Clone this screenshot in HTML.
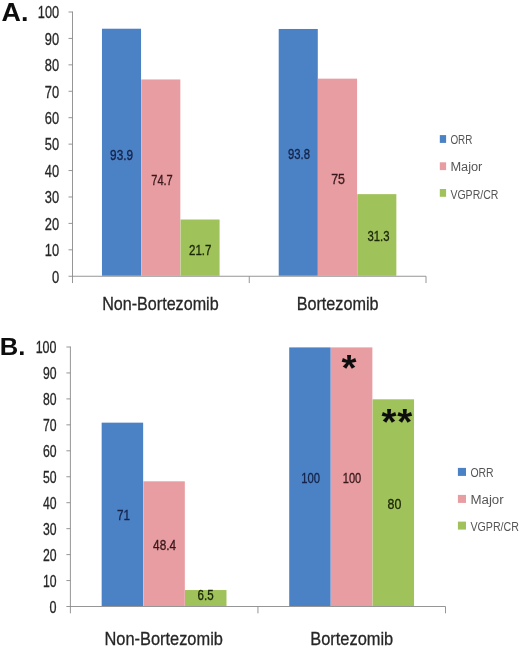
<!DOCTYPE html>
<html><head><meta charset="utf-8"><title>Figure</title>
<style>
html,body{margin:0;padding:0;background:#fff;}
body{width:520px;height:649px;overflow:hidden;}
svg{display:block;font-family:"Liberation Sans",sans-serif;}
</style></head>
<body>
<svg width="520" height="649" viewBox="0 0 520 649" shape-rendering="auto">
<rect width="520" height="649" fill="#ffffff"/>
<defs><filter id="b" x="-2%" y="-2%" width="104%" height="104%"><feGaussianBlur stdDeviation="0.6"/></filter></defs>
<g id="c" filter="url(#b)">
<rect x="101.96" y="28.72" width="39.08" height="247.03" fill="#4c81c5"/>
<rect x="141.24" y="79.46" width="39.08" height="196.29" fill="#e79da1"/>
<rect x="180.51" y="219.51" width="39.08" height="56.24" fill="#a0c25a"/>
<rect x="278.71" y="28.98" width="39.08" height="246.77" fill="#4c81c5"/>
<rect x="317.99" y="78.66" width="39.08" height="197.09" fill="#e79da1"/>
<rect x="357.26" y="194.14" width="39.08" height="81.61" fill="#a0c25a"/>
<line x1="72.5" y1="11.5" x2="72.5" y2="283.05" stroke="#8a8a8a" stroke-width="0.9"/>
<line x1="68.5" y1="276.25" x2="426" y2="276.25" stroke="#8a8a8a" stroke-width="0.9"/>
<text x="59.1" y="282.55" font-size="16.5" text-anchor="end" fill="#262626" font-weight="normal" textLength="7.2" lengthAdjust="spacingAndGlyphs" stroke="#262626" stroke-width="0.3">0</text>
<line x1="68.5" y1="249.825" x2="72.5" y2="249.825" stroke="#8a8a8a" stroke-width="0.9"/>
<text x="59.1" y="256.125" font-size="16.5" text-anchor="end" fill="#262626" font-weight="normal" textLength="14.3" lengthAdjust="spacingAndGlyphs" stroke="#262626" stroke-width="0.3">10</text>
<line x1="68.5" y1="223.4" x2="72.5" y2="223.4" stroke="#8a8a8a" stroke-width="0.9"/>
<text x="59.1" y="229.70000000000002" font-size="16.5" text-anchor="end" fill="#262626" font-weight="normal" textLength="14.3" lengthAdjust="spacingAndGlyphs" stroke="#262626" stroke-width="0.3">20</text>
<line x1="68.5" y1="196.975" x2="72.5" y2="196.975" stroke="#8a8a8a" stroke-width="0.9"/>
<text x="59.1" y="203.275" font-size="16.5" text-anchor="end" fill="#262626" font-weight="normal" textLength="14.3" lengthAdjust="spacingAndGlyphs" stroke="#262626" stroke-width="0.3">30</text>
<line x1="68.5" y1="170.55" x2="72.5" y2="170.55" stroke="#8a8a8a" stroke-width="0.9"/>
<text x="59.1" y="176.85000000000002" font-size="16.5" text-anchor="end" fill="#262626" font-weight="normal" textLength="14.3" lengthAdjust="spacingAndGlyphs" stroke="#262626" stroke-width="0.3">40</text>
<line x1="68.5" y1="144.125" x2="72.5" y2="144.125" stroke="#8a8a8a" stroke-width="0.9"/>
<text x="59.1" y="150.425" font-size="16.5" text-anchor="end" fill="#262626" font-weight="normal" textLength="14.3" lengthAdjust="spacingAndGlyphs" stroke="#262626" stroke-width="0.3">50</text>
<line x1="68.5" y1="117.69999999999999" x2="72.5" y2="117.69999999999999" stroke="#8a8a8a" stroke-width="0.9"/>
<text x="59.1" y="123.99999999999999" font-size="16.5" text-anchor="end" fill="#262626" font-weight="normal" textLength="14.3" lengthAdjust="spacingAndGlyphs" stroke="#262626" stroke-width="0.3">60</text>
<line x1="68.5" y1="91.275" x2="72.5" y2="91.275" stroke="#8a8a8a" stroke-width="0.9"/>
<text x="59.1" y="97.575" font-size="16.5" text-anchor="end" fill="#262626" font-weight="normal" textLength="14.3" lengthAdjust="spacingAndGlyphs" stroke="#262626" stroke-width="0.3">70</text>
<line x1="68.5" y1="64.85" x2="72.5" y2="64.85" stroke="#8a8a8a" stroke-width="0.9"/>
<text x="59.1" y="71.14999999999999" font-size="16.5" text-anchor="end" fill="#262626" font-weight="normal" textLength="14.3" lengthAdjust="spacingAndGlyphs" stroke="#262626" stroke-width="0.3">80</text>
<line x1="68.5" y1="38.42499999999998" x2="72.5" y2="38.42499999999998" stroke="#8a8a8a" stroke-width="0.9"/>
<text x="59.1" y="44.72499999999998" font-size="16.5" text-anchor="end" fill="#262626" font-weight="normal" textLength="14.3" lengthAdjust="spacingAndGlyphs" stroke="#262626" stroke-width="0.3">90</text>
<line x1="68.5" y1="12.0" x2="72.5" y2="12.0" stroke="#8a8a8a" stroke-width="0.9"/>
<text x="59.1" y="18.3" font-size="16.5" text-anchor="end" fill="#262626" font-weight="normal" textLength="21.3" lengthAdjust="spacingAndGlyphs" stroke="#262626" stroke-width="0.3">100</text>
<line x1="249.25" y1="276.25" x2="249.25" y2="283.05" stroke="#8a8a8a" stroke-width="0.9"/>
<line x1="426" y1="276.25" x2="426" y2="283.05" stroke="#8a8a8a" stroke-width="0.9"/>
<text x="121.6" y="159.8" font-size="15" text-anchor="middle" fill="#14244a" font-weight="normal" textLength="23" lengthAdjust="spacingAndGlyphs" stroke="#14244a" stroke-width="0.35">93.9</text>
<text x="162" y="184.5" font-size="15" text-anchor="middle" fill="#3a1a1c" font-weight="normal" textLength="21.5" lengthAdjust="spacingAndGlyphs" stroke="#3a1a1c" stroke-width="0.35">74.7</text>
<text x="200.25" y="254.5" font-size="15" text-anchor="middle" fill="#1a2606" font-weight="normal" textLength="22.5" lengthAdjust="spacingAndGlyphs" stroke="#1a2606" stroke-width="0.35">21.7</text>
<text x="299" y="158.9" font-size="15" text-anchor="middle" fill="#14244a" font-weight="normal" textLength="22" lengthAdjust="spacingAndGlyphs" stroke="#14244a" stroke-width="0.35">93.8</text>
<text x="338" y="183.5" font-size="15" text-anchor="middle" fill="#3a1a1c" font-weight="normal" textLength="13.75" lengthAdjust="spacingAndGlyphs" stroke="#3a1a1c" stroke-width="0.35">75</text>
<text x="378.5" y="241.1" font-size="15" text-anchor="middle" fill="#1a2606" font-weight="normal" textLength="22" lengthAdjust="spacingAndGlyphs" stroke="#1a2606" stroke-width="0.35">31.3</text>
<text x="160.375" y="310.2" font-size="19" text-anchor="middle" fill="#262626" font-weight="normal" textLength="116.5" lengthAdjust="spacingAndGlyphs" stroke="#262626" stroke-width="0.3">Non-Bortezomib</text>
<text x="337.625" y="310.2" font-size="19" text-anchor="middle" fill="#262626" font-weight="normal" textLength="82" lengthAdjust="spacingAndGlyphs" stroke="#262626" stroke-width="0.3">Bortezomib</text>
<rect x="439.80" y="135.10" width="6.30" height="7.80" fill="#4c81c5"/>
<text x="450.4" y="144.2" font-size="12.5" text-anchor="start" fill="#555555" font-weight="normal" textLength="22" lengthAdjust="spacingAndGlyphs">ORR</text>
<rect x="439.80" y="162.30" width="6.30" height="7.80" fill="#e79da1"/>
<text x="450.4" y="171" font-size="12.5" text-anchor="start" fill="#555555" font-weight="normal" textLength="32" lengthAdjust="spacingAndGlyphs">Major</text>
<rect x="439.80" y="189.00" width="6.30" height="7.80" fill="#a0c25a"/>
<text x="450.4" y="199.4" font-size="12.5" text-anchor="start" fill="#555555" font-weight="normal" textLength="48" lengthAdjust="spacingAndGlyphs">VGPR/CR</text>
<text x="1.6" y="20.8" font-size="25" text-anchor="start" fill="#0a0a0a" font-weight="bold" textLength="26.8" lengthAdjust="spacingAndGlyphs">A.</text>
<rect x="101.66" y="422.65" width="41.48" height="183.34" fill="#4c81c5"/>
<rect x="143.34" y="481.30" width="41.48" height="124.70" fill="#e79da1"/>
<rect x="185.01" y="590.03" width="41.48" height="15.97" fill="#a0c25a"/>
<rect x="289.21" y="347.40" width="41.48" height="258.60" fill="#4c81c5"/>
<rect x="330.89" y="347.40" width="41.48" height="258.60" fill="#e79da1"/>
<rect x="372.56" y="399.30" width="41.48" height="206.70" fill="#a0c25a"/>
<line x1="70.4" y1="346.5" x2="70.4" y2="613.3" stroke="#8a8a8a" stroke-width="0.9"/>
<line x1="66.4" y1="606.5" x2="445.5" y2="606.5" stroke="#8a8a8a" stroke-width="0.9"/>
<text x="56.5" y="612.8" font-size="16.5" text-anchor="end" fill="#262626" font-weight="normal" textLength="7.0" lengthAdjust="spacingAndGlyphs" stroke="#262626" stroke-width="0.3">0</text>
<line x1="66.4" y1="580.55" x2="70.4" y2="580.55" stroke="#8a8a8a" stroke-width="0.9"/>
<text x="56.5" y="586.8499999999999" font-size="16.5" text-anchor="end" fill="#262626" font-weight="normal" textLength="13.6" lengthAdjust="spacingAndGlyphs" stroke="#262626" stroke-width="0.3">10</text>
<line x1="66.4" y1="554.6" x2="70.4" y2="554.6" stroke="#8a8a8a" stroke-width="0.9"/>
<text x="56.5" y="560.9" font-size="16.5" text-anchor="end" fill="#262626" font-weight="normal" textLength="13.6" lengthAdjust="spacingAndGlyphs" stroke="#262626" stroke-width="0.3">20</text>
<line x1="66.4" y1="528.65" x2="70.4" y2="528.65" stroke="#8a8a8a" stroke-width="0.9"/>
<text x="56.5" y="534.9499999999999" font-size="16.5" text-anchor="end" fill="#262626" font-weight="normal" textLength="13.6" lengthAdjust="spacingAndGlyphs" stroke="#262626" stroke-width="0.3">30</text>
<line x1="66.4" y1="502.7" x2="70.4" y2="502.7" stroke="#8a8a8a" stroke-width="0.9"/>
<text x="56.5" y="509.0" font-size="16.5" text-anchor="end" fill="#262626" font-weight="normal" textLength="13.6" lengthAdjust="spacingAndGlyphs" stroke="#262626" stroke-width="0.3">40</text>
<line x1="66.4" y1="476.75" x2="70.4" y2="476.75" stroke="#8a8a8a" stroke-width="0.9"/>
<text x="56.5" y="483.05" font-size="16.5" text-anchor="end" fill="#262626" font-weight="normal" textLength="13.6" lengthAdjust="spacingAndGlyphs" stroke="#262626" stroke-width="0.3">50</text>
<line x1="66.4" y1="450.79999999999995" x2="70.4" y2="450.79999999999995" stroke="#8a8a8a" stroke-width="0.9"/>
<text x="56.5" y="457.09999999999997" font-size="16.5" text-anchor="end" fill="#262626" font-weight="normal" textLength="13.6" lengthAdjust="spacingAndGlyphs" stroke="#262626" stroke-width="0.3">60</text>
<line x1="66.4" y1="424.85" x2="70.4" y2="424.85" stroke="#8a8a8a" stroke-width="0.9"/>
<text x="56.5" y="431.15000000000003" font-size="16.5" text-anchor="end" fill="#262626" font-weight="normal" textLength="13.6" lengthAdjust="spacingAndGlyphs" stroke="#262626" stroke-width="0.3">70</text>
<line x1="66.4" y1="398.9" x2="70.4" y2="398.9" stroke="#8a8a8a" stroke-width="0.9"/>
<text x="56.5" y="405.2" font-size="16.5" text-anchor="end" fill="#262626" font-weight="normal" textLength="13.6" lengthAdjust="spacingAndGlyphs" stroke="#262626" stroke-width="0.3">80</text>
<line x1="66.4" y1="372.95" x2="70.4" y2="372.95" stroke="#8a8a8a" stroke-width="0.9"/>
<text x="56.5" y="379.25" font-size="16.5" text-anchor="end" fill="#262626" font-weight="normal" textLength="13.6" lengthAdjust="spacingAndGlyphs" stroke="#262626" stroke-width="0.3">90</text>
<line x1="66.4" y1="347.0" x2="70.4" y2="347.0" stroke="#8a8a8a" stroke-width="0.9"/>
<text x="56.5" y="353.3" font-size="16.5" text-anchor="end" fill="#262626" font-weight="normal" textLength="20.8" lengthAdjust="spacingAndGlyphs" stroke="#262626" stroke-width="0.3">100</text>
<line x1="257.95000000000005" y1="606.5" x2="257.95000000000005" y2="613.3" stroke="#8a8a8a" stroke-width="0.9"/>
<line x1="445.5" y1="606.5" x2="445.5" y2="613.3" stroke="#8a8a8a" stroke-width="0.9"/>
<text x="123.5" y="520.0" font-size="15" text-anchor="middle" fill="#14244a" font-weight="normal" textLength="13" lengthAdjust="spacingAndGlyphs" stroke="#14244a" stroke-width="0.35">71</text>
<text x="164.6" y="550.25" font-size="15" text-anchor="middle" fill="#3a1a1c" font-weight="normal" textLength="23" lengthAdjust="spacingAndGlyphs" stroke="#3a1a1c" stroke-width="0.35">48.4</text>
<text x="205.6" y="599.75" font-size="15" text-anchor="middle" fill="#1a2606" font-weight="normal" textLength="16" lengthAdjust="spacingAndGlyphs" stroke="#1a2606" stroke-width="0.35">6.5</text>
<text x="310.6" y="483.25" font-size="15" text-anchor="middle" fill="#14244a" font-weight="normal" textLength="18.75" lengthAdjust="spacingAndGlyphs" stroke="#14244a" stroke-width="0.35">100</text>
<text x="352" y="483.25" font-size="15" text-anchor="middle" fill="#3a1a1c" font-weight="normal" textLength="18.5" lengthAdjust="spacingAndGlyphs" stroke="#3a1a1c" stroke-width="0.35">100</text>
<text x="394.4" y="508.5" font-size="15" text-anchor="middle" fill="#1a2606" font-weight="normal" textLength="13.75" lengthAdjust="spacingAndGlyphs" stroke="#1a2606" stroke-width="0.35">80</text>
<text x="163.675" y="645.4" font-size="19" text-anchor="middle" fill="#262626" font-weight="normal" textLength="118.5" lengthAdjust="spacingAndGlyphs" stroke="#262626" stroke-width="0.3">Non-Bortezomib</text>
<text x="351.725" y="645.4" font-size="19" text-anchor="middle" fill="#262626" font-weight="normal" textLength="83" lengthAdjust="spacingAndGlyphs" stroke="#262626" stroke-width="0.3">Bortezomib</text>
<rect x="457.90" y="467.90" width="8.10" height="8.00" fill="#4c81c5"/>
<text x="470.4" y="477.1" font-size="12.5" text-anchor="start" fill="#555555" font-weight="normal" textLength="23.3" lengthAdjust="spacingAndGlyphs">ORR</text>
<rect x="457.90" y="494.90" width="8.10" height="8.00" fill="#e79da1"/>
<text x="470.4" y="503.7" font-size="12.5" text-anchor="start" fill="#555555" font-weight="normal" textLength="33.3" lengthAdjust="spacingAndGlyphs">Major</text>
<rect x="457.90" y="521.60" width="8.10" height="8.00" fill="#a0c25a"/>
<text x="470.4" y="530.8" font-size="12.5" text-anchor="start" fill="#555555" font-weight="normal" textLength="48.6" lengthAdjust="spacingAndGlyphs">VGPR/CR</text>
<text x="-0.2" y="355" font-size="23.5" text-anchor="start" fill="#0a0a0a" font-weight="bold" textLength="25.6" lengthAdjust="spacingAndGlyphs">B.</text>
<text x="349.0" y="381.3" font-size="36" text-anchor="middle" fill="#111" font-weight="bold" textLength="15" lengthAdjust="spacingAndGlyphs">*</text>
<text x="389.0" y="435.3" font-size="36" text-anchor="middle" fill="#111" font-weight="bold" textLength="15" lengthAdjust="spacingAndGlyphs">*</text>
<text x="404.8" y="435.3" font-size="36" text-anchor="middle" fill="#111" font-weight="bold" textLength="15" lengthAdjust="spacingAndGlyphs">*</text>
</g>
</svg>
</body></html>
